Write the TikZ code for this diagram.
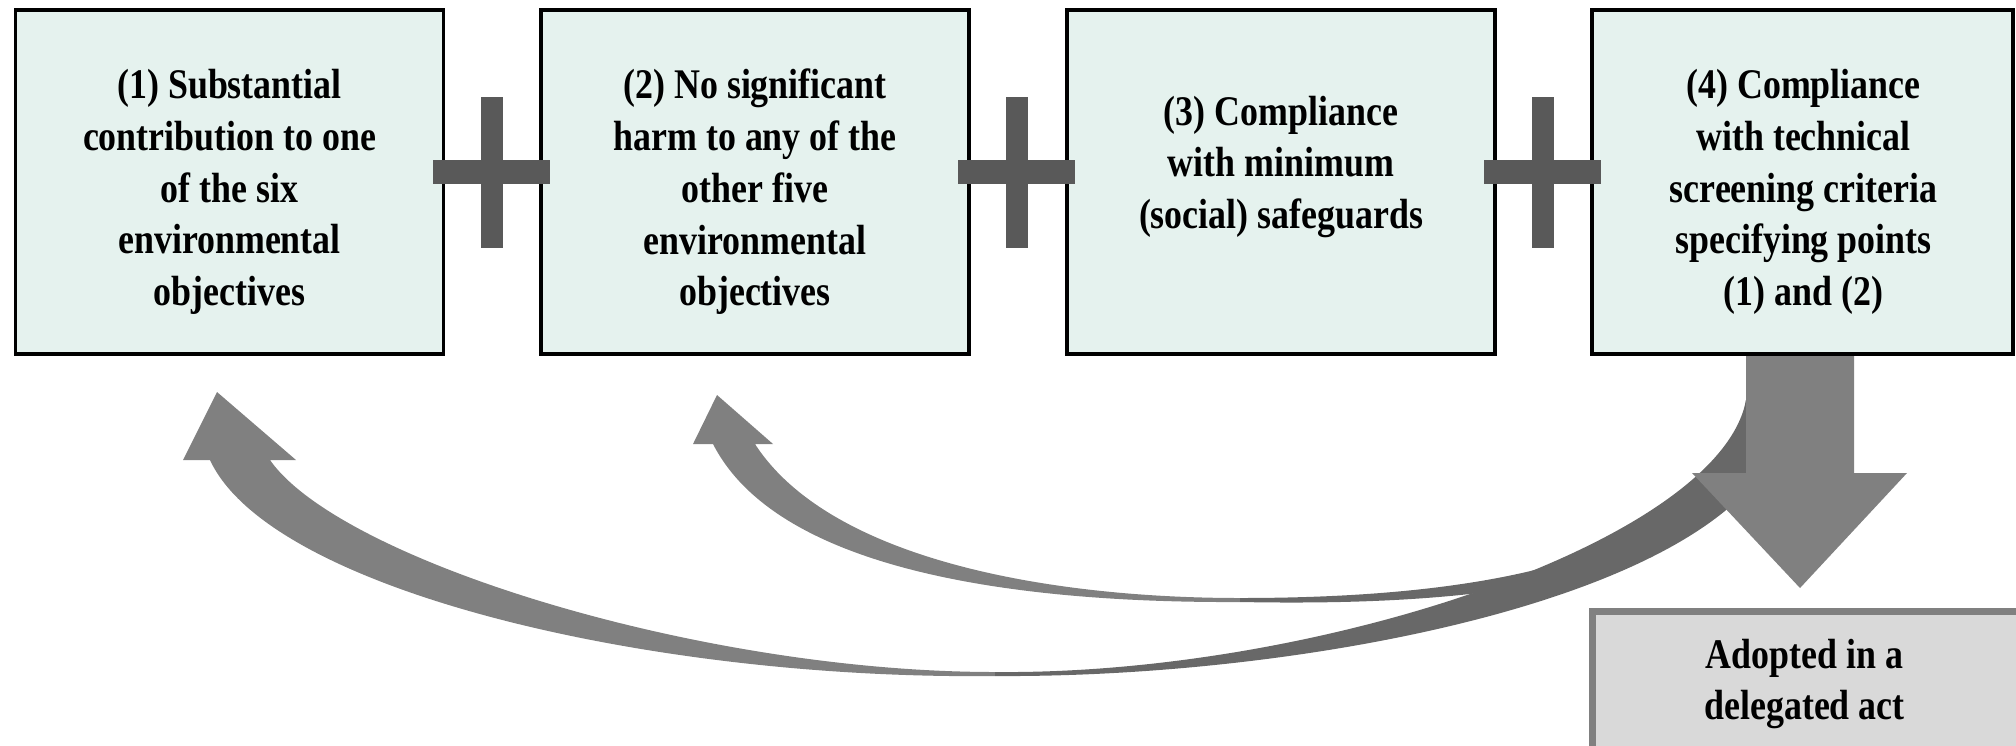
\documentclass[tikz,border=0pt]{standalone}
\usepackage{fontspec}
\setmainfont{Liberation Serif}[FakeStretch=0.85]
\usetikzlibrary{calc}
\definecolor{boxmint}{HTML}{E5F2EE}
\definecolor{plusgray}{HTML}{595959}
\definecolor{arrowgray}{HTML}{808080}
\definecolor{arrowdark}{HTML}{686868}
\definecolor{actgray}{HTML}{D9D9D9}
\tikzset{
	critbox/.style={draw=black, line width=1pt, fill=boxmint, inner sep=0pt,
		minimum width=4.28cm, minimum height=3.44cm},
	crittext/.style={align=center, inner sep=0pt,
		font=\fontsize{12}{14.7}\selectfont\bfseries},
	actbox/.style={draw=arrowgray, line width=2pt, fill=actgray, inner sep=0pt,
		minimum width=4.27cm, minimum height=1.40cm},
}

\begin{document}
\begin{tikzpicture}[x=0.01cm, y=-0.01cm]
		%%%%% START %%%%%
		\useasboundingbox (0,0) rectangle (2016,745);
		\clip (0,0) rectangle (2016,745);
		
		\node[critbox] (c1) at (229.5,182) {};
		\node[critbox] (c2) at (755,182) {};
		\node[critbox] (c3) at (1281,182) {};
		\node[critbox, minimum width=4.21cm] (c4) at (1802.5,182) {};
		
		\node[crittext] (t1) at ($(c1.center)+(0,10)$) {(1) Substantial\\contribution to one\\of the six\\environmental\\objectives};
		\node[crittext] (t2) at ($(c2.center)+(0,10)$) {(2) No significant\\harm to any of the\\other five\\environmental\\objectives};
		\node[crittext] (t3) at ($(c3.center)+(0,-15)$) {(3) Compliance\\with minimum\\(social) safeguards};
		\node[crittext] (t4) at ($(c4.center)+(1,10)$) {(4) Compliance\\with technical\\screening criteria\\specifying points\\(1) and (2)};
		
		\foreach \px in {492,1017,1543}{
			\fill[plusgray] (\px-59,160) rectangle (\px+58,184);
			\fill[plusgray] (\px-11,97) rectangle (\px+11,248);
		}
		
		% back to (1)
		\fill[arrowgray] (270,460) .. controls (340,560) and (700,672) .. (995,672) -- (995,676)
			.. controls (650,680) and (270,590) .. (210,460) -- (183,460) -- (217,392) -- (296,460) -- cycle;
		\fill[arrowdark] (995,672) .. controls (1320,675) and (1720,540) .. (1746,400) -- (1780,440)
			.. controls (1720,600) and (1300,678) .. (995,676) -- cycle;
		
		% back to (2)
		\fill[arrowgray] (755,444) .. controls (830,560) and (1050,598) .. (1240,598) -- (1240,602)
			.. controls (1030,603) and (780,575) .. (713,444) -- (693,444) -- (717,395) -- (773,444) -- cycle;
		\fill[arrowdark] (1240,598) .. controls (1450,598) and (1720,570) .. (1746,400) -- (1765,430)
			.. controls (1735,590) and (1450,606) .. (1240,602) -- cycle;
		
		\fill[arrowgray] (1746,356) -- (1854,356) -- (1854,473) -- (1907,473) -- (1800,588)
			-- (1692,473) -- (1746,473) -- cycle;
		
		\node[actbox] (act) at (1806.5,682) {};
		\node[crittext] (ta) at ($(act.center)+(-2,2)$) {Adopted in a\\delegated act};
		
		%%%%% END %%%%%
\end{tikzpicture}
\end{document}
